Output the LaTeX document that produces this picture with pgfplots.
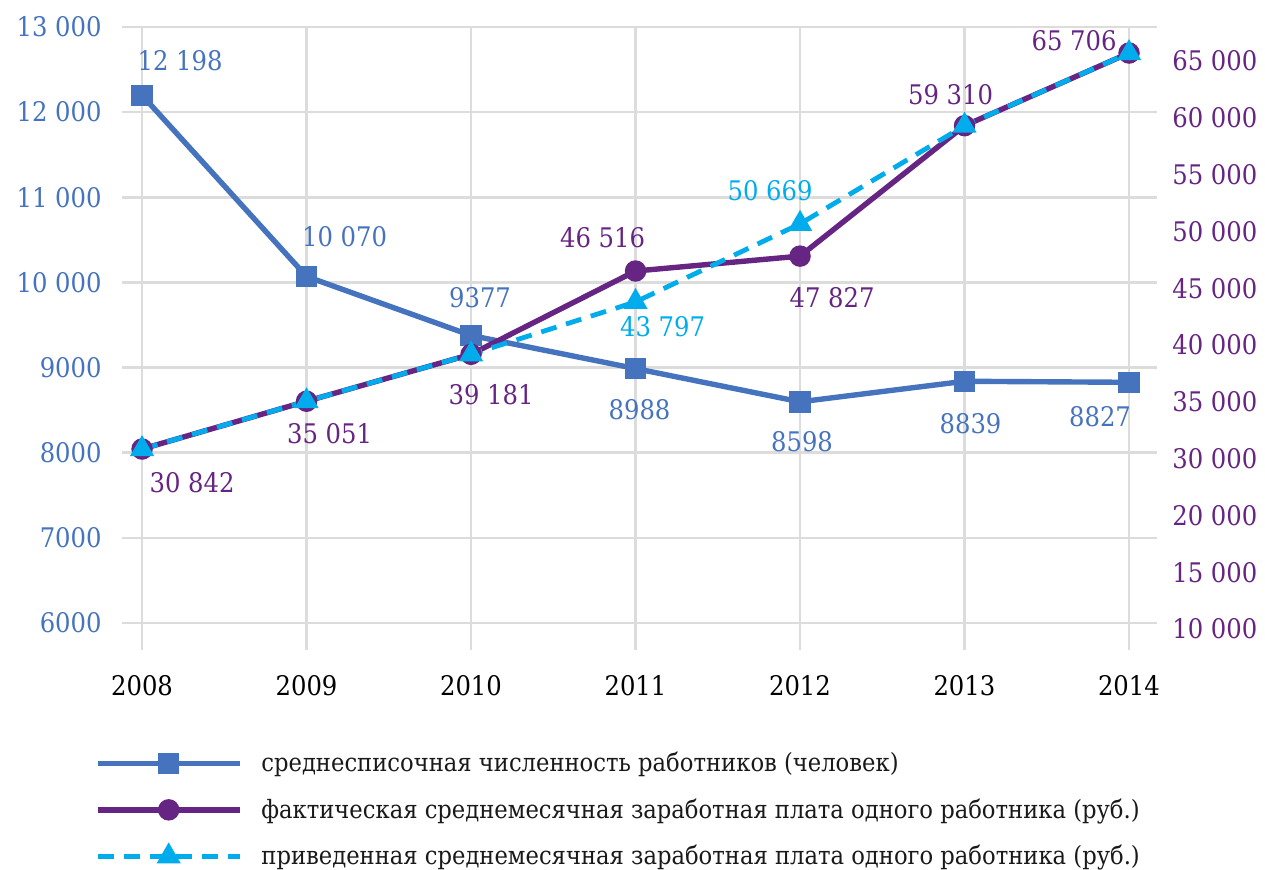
\documentclass[border=0pt]{standalone}
\usepackage{fontspec}
\IfFontExistsTF{DejaVu Serif Condensed}{\setmainfont{DejaVu Serif Condensed}}{\setmainfont{DejaVu Serif}}
\usepackage{pgfplots}
\pgfplotsset{compat=1.18}
\usepackage{pgfplotstable}

\definecolor{cBlue}{RGB}{70,115,190}
\definecolor{cPurple}{RGB}{102,36,131}
\definecolor{cCyan}{RGB}{0,172,236}
\definecolor{cGrid}{RGB}{220,220,220}

% label offsets dx, dy in pt
\pgfplotstableread{
year  val    dx     dy
2008  12198  19     17.5
2009  10070  19     20
2010  9377   4.5    19
2011  8988   2      -20.5
2012  8598   1      -20
2013  8839   3      -21
2014  8827   -14.5  -17
}\staff

\pgfplotstableread{
year  val    dx     dy
2008  30842  25     -17
2009  35051  11.5   -16
2010  39181  10     -20
2011  46516  -16.5  16.5
2012  47827  16     -21
2013  59310  -7     15.5
2014  65706  -27.5  6
}\wagefact

\pgfplotstableread{
year  val    lab  dx     dy
2008  30842  0    0      0
2009  35051  0    0      0
2010  39181  0    0      0
2011  43797  1    13.5   -12.5
2012  50669  1    -15    16.5
2013  59310  0    0      0
2014  65706  0    0      0
}\wagered

\pgfplotsset{
  base/.style={
    at={(61pt,109.5pt)}, anchor=south west,
    scale only axis, width=517.5pt, height=311.5pt,
    xmin=2007.878, xmax=2014.17,
    axis line style={draw=none},
    major tick length=0pt,
    clip=false,
    scaled ticks=false,
    /pgf/number format/fixed,
    /pgf/number format/precision=0,
    /pgf/number format/1000 sep={~},
    /pgf/number format/min exponent for 1000 sep=4,
    /pgf/number format/assume math mode=true,
    tick label style={font=\fontsize{13.5}{16}\selectfont, inner sep=0pt},
  },
  lab/.style={
    nodes near coords,
    point meta=y,
    visualization depends on={\thisrow{dx} \as \labdx},
    visualization depends on={\thisrow{dy} \as \labdy},
    every node near coord/.append style={anchor=center, inner sep=0pt,
      font=\fontsize{13.5}{16}\selectfont, text=#1,
      xshift=\labdx pt, yshift=\labdy pt},
  },
}

\begin{document}
\begin{tikzpicture}
\path[use as bounding box] (0,0) rectangle (632.5pt,434.5pt);

\begin{axis}[
  base,
  ymin=5683, ymax=13000,
  xtick={2008,...,2014},
  ytick={6000,7000,...,13000},
  grid=major,
  grid style={cGrid, line width=1.3pt},
  yticklabel style={text=cBlue, anchor=east, xshift=-10pt},
  xticklabel style={text=black, anchor=north, yshift=-12.5pt},
]
\addplot[cBlue, line width=2.7pt, mark=square*, mark size=4pt, lab=cBlue]
  table[x=year, y=val] {\staff};
\end{axis}

\begin{axis}[
  base,
  ymin=13150, ymax=68000,
  xtick=\empty,
  ytick={15000,20000,...,65000},
  yticklabels={10~000,15~000,20~000,30~000,35~000,40~000,45~000,50~000,55~000,60~000,65~000},
  yticklabel pos=right,
  yticklabel style={text=cPurple, anchor=west, xshift=7.5pt},
  legend cell align=left,
  legend style={at={(axis description cs:-0.0261,-0.1573)}, anchor=north west,
    draw=none, fill=none, inner sep=0pt, outer sep=0pt,
    row sep=8pt, column sep=7.5pt,
    font=\fontsize{12.6}{14}\selectfont, text=black!90},
  legend image code/.code={
    \draw[mark repeat=2, mark phase=2, #1]
      plot coordinates {(0pt,0pt) (35.5pt,0pt) (71pt,0pt)};},
]
\addlegendimage{cBlue, line width=2.7pt, mark=square*, mark size=4pt}
\addlegendentry{среднесписочная численность работников (человек)}

\addplot[cPurple, line width=2.7pt, mark=*, mark size=4pt, lab=cPurple]
  table[x=year, y=val] {\wagefact};
\addlegendentry{фактическая среднемесячная заработная плата одного работника (руб.)}

\addplot[cCyan, line width=2.4pt, dash pattern=on 8pt off 5pt,
  mark=triangle*, mark size=4.6pt, mark options={solid}, lab=cCyan,
  visualization depends on={\thisrow{lab} \as \labon},
  nodes near coords={\ifdim\labon pt>0.5pt \pgfmathprintnumber{\pgfplotspointmeta}\fi}]
  table[x=year, y=val] {\wagered};
\addlegendentry{приведенная среднемесячная заработная плата одного работника (руб.)}
\end{axis}
\end{tikzpicture}
\end{document}
